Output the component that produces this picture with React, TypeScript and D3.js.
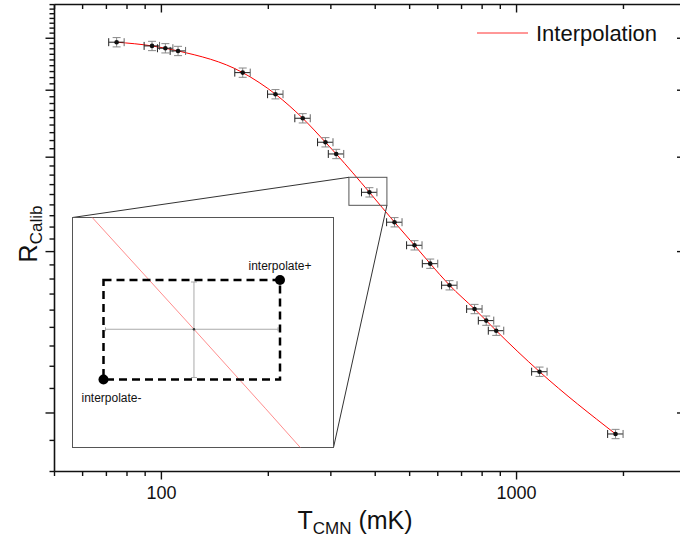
import React from "react";
import * as d3 from "d3";

// ---- data ----
const T_CMN = [74.8, 94.1, 102.6, 111.4, 169.4, 209.5, 250.0, 289.7, 310.6, 385.2, 453.3, 516.0, 571.4, 647.5, 761.6, 821.5, 876.5, 1160.8, 1900];
const R_CALIB = [4.916, 4.838, 4.79, 4.735, 4.314, 3.932, 3.546, 3.199, 3.042, 2.58, 2.269, 2.055, 1.899, 1.731, 1.563, 1.487, 1.424, 1.194, 0.9138];
const T_ERR_REL = 0.05;
const R_ERR_REL = 0.02;
const ZOOM_INDEX = 9;
const X_LABELS = [100, 1000];
const X_DOMAIN = [50, 3000];
const Y_DOMAIN = [7 / 9, 5.78];
const LEGEND = "Interpolation";

const FONT = "'Liberation Sans', Arial, Helvetica, sans-serif";

export default function App() {
  const W = 680, H = 540;
  const left = 54.5, right = 686, top = 4.5, bottom = 471.5;
  const x = d3.scaleLog().domain(X_DOMAIN).range([left, right]);
  const y = d3.scaleLog().domain(Y_DOMAIN).range([bottom, top]);

  const pts = T_CMN.map((t, i) => ({ t, r: R_CALIB[i] }));

  // ticks
  const xTicks: { v: number; major: boolean }[] = [];
  [10, 100, 1000].forEach((d) => {
    for (let m = 1; m <= 9; m++) {
      const v = m * d;
      if (v >= X_DOMAIN[0] - 1e-9 && v <= X_DOMAIN[1] + 1e-9) xTicks.push({ v, major: m === 1 });
    }
  });
  const yTicks: { v: number; major: boolean }[] = [];
  for (let m = 0; m <= 5; m++) {
    for (let j = 0; j <= 8; j++) {
      const v = m + j / 9;
      if (v >= Y_DOMAIN[0] - 1e-9 && v <= Y_DOMAIN[1]) yTicks.push({ v, major: j === 0 && m >= 1 });
    }
  }

  const line = d3
    .line<{ t: number; r: number }>()
    .x((d) => x(d.t))
    .y((d) => y(d.r))
    .curve(d3.curveMonotoneX);

  // zoom box / inset
  const zp = pts[ZOOM_INDEX];
  const zx = x(zp.t), zy = y(zp.r);
  const box = { x0: zx - 20.5, x1: zx + 17.5, y0: zy - 15, y1: zy + 13 };
  const inset = { x0: 72.5, y0: 217.5, x1: 333.5, y1: 447.5 };
  const xi = d3.scaleLog().domain([zp.t * (1 - T_ERR_REL), zp.t * (1 + T_ERR_REL)]).range([103.5, 280]);
  const yi = d3.scaleLog().domain([zp.r * (1 - R_ERR_REL), zp.r * (1 + R_ERR_REL)]).range([379.5, 280]);
  const lineIn = d3
    .line<{ t: number; r: number }>()
    .x((d) => xi(d.t))
    .y((d) => yi(d.r))
    .curve(d3.curveMonotoneX);

  const cx = xi(zp.t), cy = yi(zp.r);
  const exL = xi(zp.t * (1 - T_ERR_REL)) + 2, exR = xi(zp.t * (1 + T_ERR_REL)) - 2;
  const eyT = yi(zp.r * (1 + R_ERR_REL)) + 2, eyB = yi(zp.r * (1 - R_ERR_REL)) - 2;
  const plusX = xi(zp.t * (1 + T_ERR_REL)), plusY = yi(zp.r * (1 + R_ERR_REL));
  const minusX = xi(zp.t * (1 - T_ERR_REL)), minusY = yi(zp.r * (1 - R_ERR_REL));

  return (
    <svg width={W} height={H} style={{ position: "absolute", left: 0, top: 0, display: "block", background: "#fff" }} fontFamily={FONT}>
      <defs>
        <clipPath id="insetClip">
          <rect x={inset.x0} y={inset.y0} width={inset.x1 - inset.x0} height={inset.y1 - inset.y0} />
        </clipPath>
      </defs>

      {/* main curve */}
      <path d={line(pts) || ""} fill="none" stroke="#ff0000" strokeWidth={1} />

      {/* error bars + points */}
      {pts.map((p, i) => {
        const px = x(p.t), py = y(p.r);
        const xl = x(p.t * (1 - T_ERR_REL)), xr = x(p.t * (1 + T_ERR_REL));
        const yt = y(p.r * (1 + R_ERR_REL)), yb = y(p.r * (1 - R_ERR_REL));
        return (
          <g key={i}>
            <line x1={px} x2={px} y1={yt} y2={yb} stroke="#888" strokeWidth={1} />
            <line x1={px - 4} x2={px + 4} y1={yt} y2={yt} stroke="#888" strokeWidth={1} />
            <line x1={px - 4} x2={px + 4} y1={yb} y2={yb} stroke="#888" strokeWidth={1} />
            <line x1={xl} x2={xr} y1={py} y2={py} stroke="#222" strokeWidth={1} />
            <line x1={xl} x2={xl} y1={py - 4} y2={py + 4} stroke="#222" strokeWidth={1} />
            <line x1={xr} x2={xr} y1={py - 4} y2={py + 4} stroke="#666" strokeWidth={1} />
            <circle cx={px} cy={py} r={2.3} fill="#111" />
          </g>
        );
      })}

      {/* zoom box and connectors */}
      <rect x={box.x0} y={box.y0} width={box.x1 - box.x0} height={box.y1 - box.y0} fill="none" stroke="#555" strokeWidth={1} />
      <line x1={box.x0} y1={box.y0} x2={inset.x0} y2={inset.y0} stroke="#333" strokeWidth={1} />
      <line x1={box.x1} y1={box.y1} x2={inset.x1} y2={inset.y1} stroke="#333" strokeWidth={1} />

      {/* inset */}
      <rect x={inset.x0} y={inset.y0} width={inset.x1 - inset.x0} height={inset.y1 - inset.y0} fill="#fff" stroke="#555" strokeWidth={1} />
      <g clipPath="url(#insetClip)">
        <path d={lineIn(pts) || ""} fill="none" stroke="#ff7070" strokeWidth={0.8} />
      </g>
      <line x1={exL} x2={exR} y1={cy} y2={cy} stroke="#aaa" strokeWidth={1} />
      <line x1={exL} x2={exL} y1={cy - 2} y2={cy + 2} stroke="#aaa" strokeWidth={1} />
      <line x1={exR} x2={exR} y1={cy - 2} y2={cy + 2} stroke="#aaa" strokeWidth={1} />
      <line x1={cx} x2={cx} y1={eyT} y2={eyB} stroke="#aaa" strokeWidth={1} />
      <line x1={cx - 3} x2={cx + 3} y1={eyT} y2={eyT} stroke="#aaa" strokeWidth={1} />
      <line x1={cx - 3} x2={cx + 3} y1={eyB} y2={eyB} stroke="#aaa" strokeWidth={1} />
      <circle cx={cx} cy={cy} r={1.2} fill="#333" />
      <rect x={minusX} y={plusY} width={plusX - minusX} height={minusY - plusY} fill="none" stroke="#000" strokeWidth={2.5} strokeDasharray="8,5" />
      <circle cx={plusX} cy={plusY} r={5} fill="#000" />
      <circle cx={minusX} cy={minusY} r={5} fill="#000" />
      <text x={plusX} y={plusY - 10} fontSize={12} textAnchor="middle" fill="#111">interpolate+</text>
      <text x={minusX + 8} y={minusY + 22} fontSize={12} textAnchor="middle" fill="#111">interpolate-</text>

      {/* axes frame */}
      <line x1={left} x2={right} y1={bottom} y2={bottom} stroke="#111" strokeWidth={1.6} />
      <line x1={left} x2={right} y1={top} y2={top} stroke="#111" strokeWidth={1.6} />
      <line x1={left} x2={left} y1={top} y2={bottom} stroke="#111" strokeWidth={1.6} />
      <line x1={right} x2={right} y1={top} y2={bottom} stroke="#111" strokeWidth={1.6} />

      {xTicks.map((tk, i) => {
        const px = x(tk.v);
        const len = tk.major ? 8 : 4.5;
        return (
          <g key={"xt" + i}>
            <line x1={px} x2={px} y1={bottom} y2={bottom + len} stroke="#111" strokeWidth={1.4} />
            <line x1={px} x2={px} y1={top} y2={top + len} stroke="#111" strokeWidth={1.4} />
          </g>
        );
      })}
      {yTicks.map((tk, i) => {
        const py = y(tk.v);
        const len = tk.major ? 9 : 5;
        return (
          <g key={"yt" + i}>
            <line x1={left - len} x2={left} y1={py} y2={py} stroke="#111" strokeWidth={1.4} />
            <line x1={right - len} x2={right} y1={py} y2={py} stroke="#111" strokeWidth={1.4} />
          </g>
        );
      })}

      {X_LABELS.map((v) => (
        <text key={"xl" + v} x={x(v)} y={499} fontSize={18} textAnchor="middle" fill="#111">
          {v}
        </text>
      ))}

      {/* axis titles */}
      <text x={355} y={529} fontSize={25} textAnchor="middle" fill="#111">
        T<tspan fontSize={17} dy={5}>CMN</tspan>
        <tspan dy={-5}> (mK)</tspan>
      </text>
      <text transform="translate(37,234) rotate(-90)" fontSize={25} textAnchor="middle" fill="#111">
        R<tspan fontSize={17} dy={5}>Calib</tspan>
      </text>

      {/* legend */}
      <line x1={477} x2={528} y1={33} y2={33} stroke="#ff3030" strokeWidth={1} />
      <text x={536} y={40.5} fontSize={22} fill="#111">{LEGEND}</text>
    </svg>
  );
}
